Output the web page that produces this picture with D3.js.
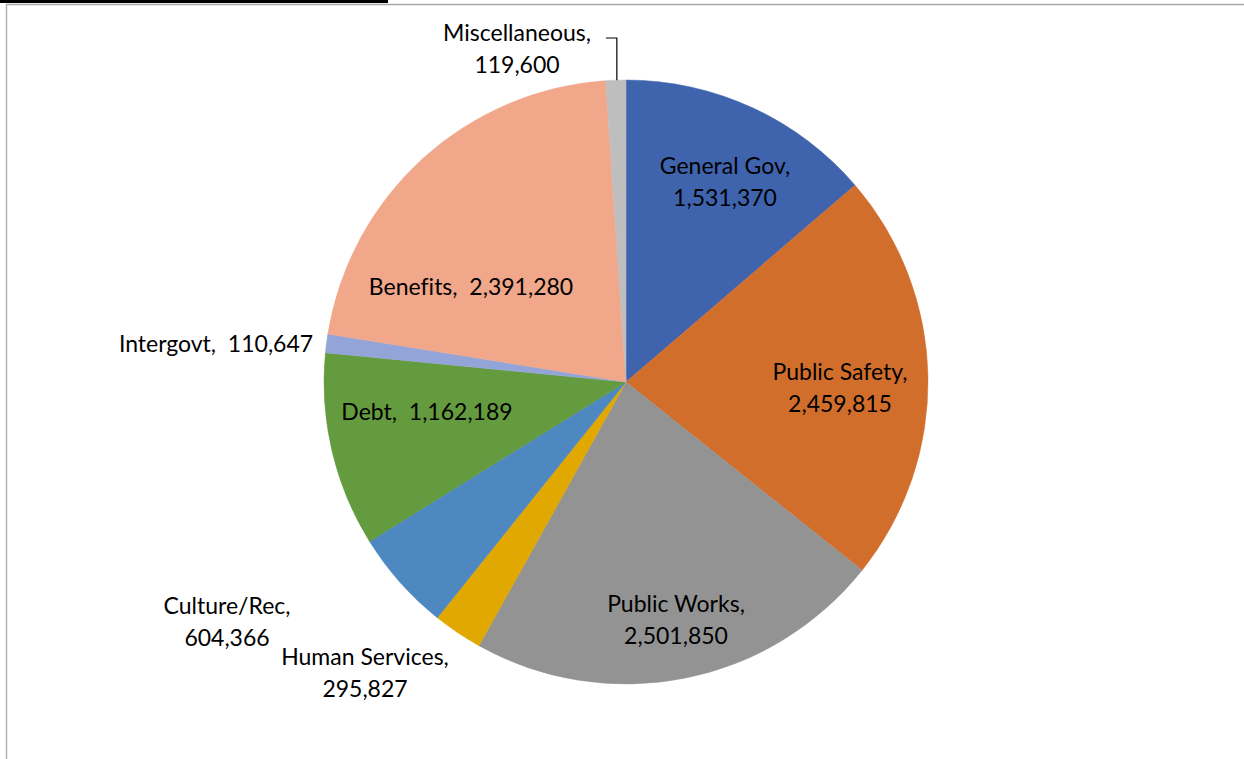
<!DOCTYPE html>
<meta charset="utf-8">
<style>
  body { margin: 0; background: #fff; }
  text { font-family: Lato, "Open Sans", sans-serif; font-size: 23px; fill: #000; font-variant-ligatures: none; }
</style>
<body>
  <svg width="1244" height="759"></svg>
  <script src="https://cdn.jsdelivr.net/npm/d3@7"></script>
  <script>
    // budget categories, clockwise from 12 o'clock
    const categories = ["General Gov", "Public Safety", "Public Works", "Human Services",
      "Culture/Rec", "Debt", "Intergovt", "Benefits", "Miscellaneous"];
    const amounts = [1531370, 2459815, 2501850, 295827, 604366, 1162189, 110647, 2391280, 119600];
    const colors = ["#3F64AD", "#D26E2C", "#939393", "#E0A800", "#4E88C0",
      "#649B3E", "#93A5D8", "#F0A78A", "#BEBEBE"];

    const svg = d3.select("svg"),
      width = +svg.attr("width"),
      height = +svg.attr("height");

    // frame bits from the original screenshot
    svg.append("rect").attr("x", 0).attr("y", 0).attr("width", 388).attr("height", 3).attr("fill", "#000");
    svg.append("line").attr("x1", 6).attr("x2", width).attr("y1", 4.5).attr("y2", 4.5)
      .attr("stroke", "#a6a6a6").attr("stroke-width", 1.5);
    svg.append("line").attr("x1", 6.5).attr("x2", 6.5).attr("y1", 4).attr("y2", height)
      .attr("stroke", "#b4b4b4").attr("stroke-width", 1.5);

    const cx = 626, cy = 382, radius = 302;
    const g = svg.append("g").attr("transform", "translate(" + cx + "," + cy + ")");

    const data = categories.map((c, i) => ({ name: c, value: amounts[i], color: colors[i] }));
    const pie = d3.pie().sort(null).value(d => d.value);
    const arcs = pie(data);
    const arc = d3.arc().innerRadius(0).outerRadius(radius);

    g.selectAll("path.slice")
      .data(arcs)
      .enter().append("path")
      .attr("class", "slice")
      .attr("d", arc)
      .attr("fill", d => d.data.color)
      .attr("stroke", d => d.data.color)
      .attr("stroke-width", 0.5);

    const fmt = d3.format(",");

    // label placement (offset from pie centre) and line layout, tuned by eye
    const labelLayout = {
      "General Gov": { x: 99, y: -216, two: true },
      "Public Safety": { x: 214, y: -10, two: true },
      "Public Works": { x: 50, y: 222, two: true },
      "Human Services": { x: -261, y: 275, two: true },
      "Culture/Rec": { x: -399, y: 224, two: true },
      "Debt": { x: -199, y: 30, two: false },
      "Intergovt": { x: -410, y: -38, two: false },
      "Benefits": { x: -155, y: -95, two: false },
      "Miscellaneous": { x: -109, y: -349, two: true }
    };

    const labels = g.selectAll("text.lbl")
      .data(arcs)
      .enter().append("text")
      .attr("class", "lbl")
      .attr("text-anchor", "middle")
      .attr("transform", d => {
        const p = labelLayout[d.data.name];
        return "translate(" + p.x + "," + p.y + ")";
      });

    labels.each(function (d) {
      const p = labelLayout[d.data.name];
      const t = d3.select(this);
      if (p.two) {
        t.append("tspan").attr("x", 0).attr("dy", "0.35em").text(d.data.name + ",");
        t.append("tspan").attr("x", 0).attr("dy", 32).text(fmt(d.data.value));
      } else {
        t.append("tspan").attr("x", 0).attr("dy", "0.35em")
          .text(d.data.name + ",\u00a0 " + fmt(d.data.value));
      }
    });

    // leader line for the small Miscellaneous slice
    const misc = arcs[arcs.length - 1];
    const mid = (misc.startAngle + misc.endAngle) / 2;
    const edgeX = radius * Math.sin(mid), edgeY = -radius * Math.cos(mid);
    g.append("path")
      .attr("d", "M" + (edgeX - 10) + "," + (-344) + "H" + (edgeX + 1) + "V" + edgeY)
      .attr("fill", "none")
      .attr("stroke", "#000")
      .attr("stroke-width", 1.2);
  </script>
</body>
